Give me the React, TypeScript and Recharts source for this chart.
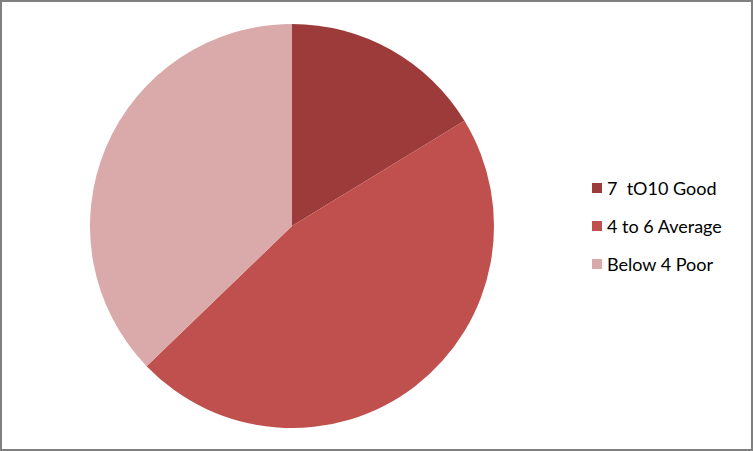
import React from "react";
import { PieChart, Pie, Cell, Legend } from "recharts";

const categories = ["7  tO10 Good", "4 to 6 Average", "Below 4 Poor"];
const counts = [7, 20, 16];
const colors = ["#9D3B3A", "#C0504D", "#D9AAA9"];

const data = categories.map((name, i) => ({ name, value: counts[i] }));

function LegendBox({ payload }: { payload?: any[] }) {
  // keep the slice order, not alphabetical
  const items = [...(payload || [])].sort(
    (a, b) => categories.indexOf(a.value) - categories.indexOf(b.value)
  );
  return (
    <div>
      {items.map((entry, i) => (
        <div
          key={i}
          style={{ display: "flex", alignItems: "center", height: 38 }}
        >
          <span
            style={{
              display: "inline-block",
              width: 10,
              height: 10,
              background: entry.color,
              marginRight: 5,
            }}
          />
          <span style={{ whiteSpace: "pre", color: "#000", fontSize: 18 }}>
            {entry.value}
          </span>
        </div>
      ))}
    </div>
  );
}

export default function App() {
  return (
    <div
      style={{
        position: "absolute",
        left: 0,
        top: 0,
        width: 753,
        height: 451,
        boxSizing: "border-box",
        border: "2px solid #808080",
        background: "#fff",
        fontFamily: "Lato, 'Open Sans', sans-serif",
      }}
    >
      <PieChart width={749} height={447} margin={{ top: 0, right: 0, bottom: 0, left: 0 }}>
        <Pie
          data={data}
          dataKey="value"
          nameKey="name"
          cx={290}
          cy={224}
          outerRadius={202}
          startAngle={90}
          endAngle={-270}
          stroke="none"
          isAnimationActive={false}
        >
          {data.map((d, i) => (
            <Cell key={d.name} fill={colors[i]} />
          ))}
        </Pie>
        <Legend
          layout="vertical"
          content={<LegendBox />}
          wrapperStyle={{ left: 590, top: 167, width: 160 }}
        />
      </PieChart>
    </div>
  );
}
